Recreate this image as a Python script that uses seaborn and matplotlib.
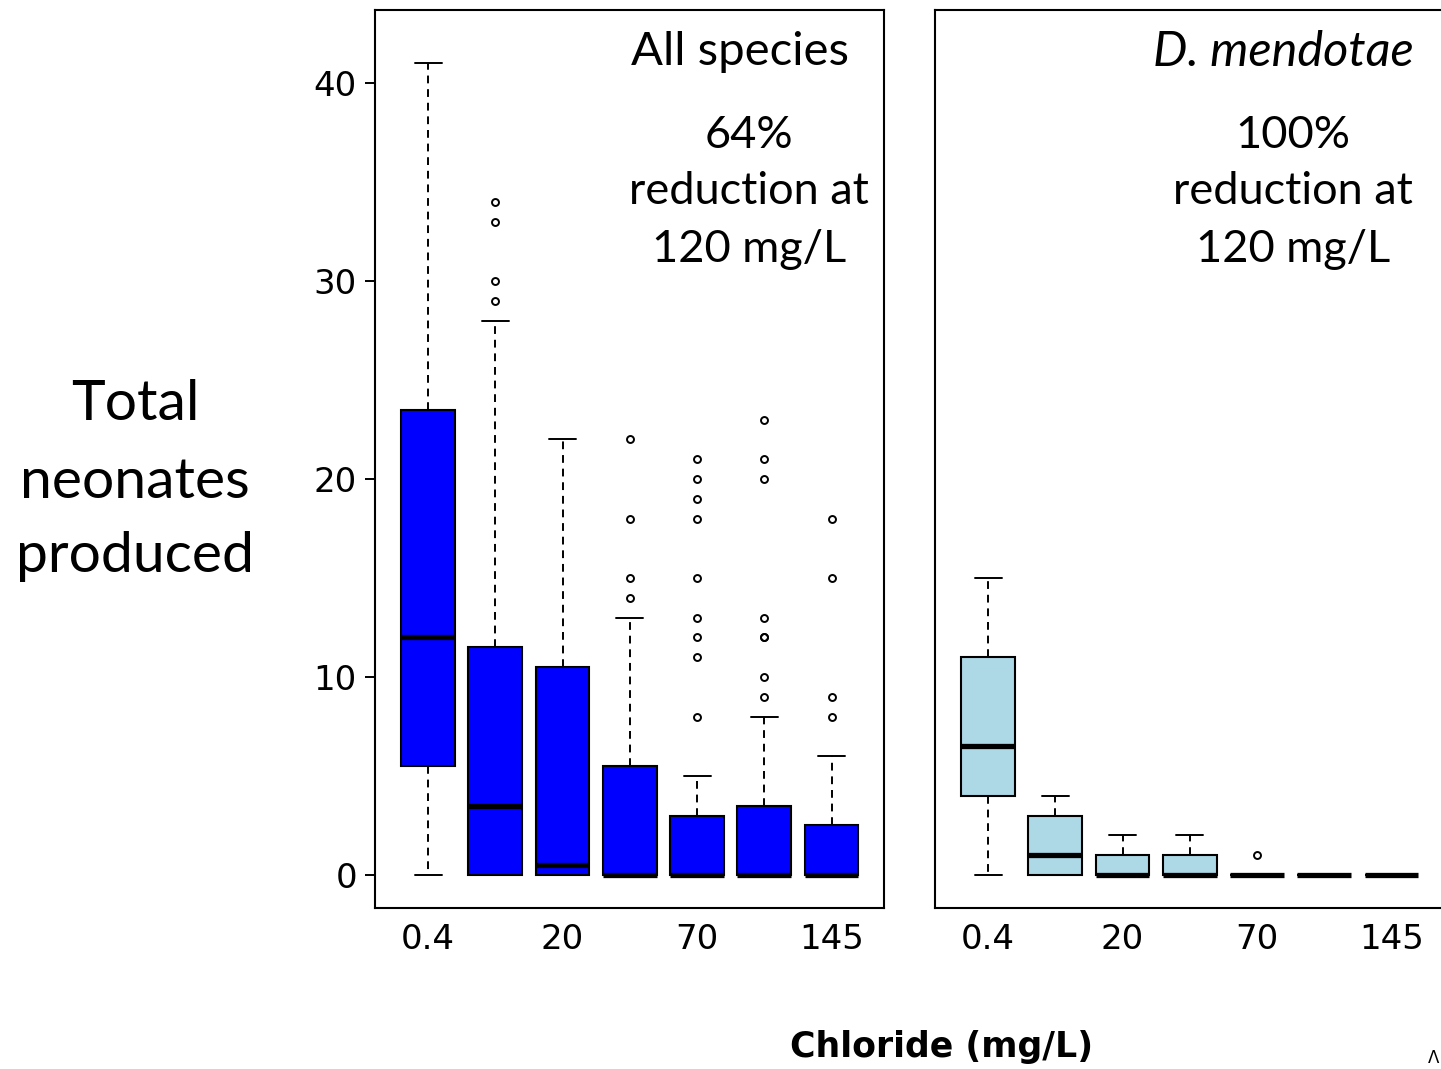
import numpy as np
import pandas as pd
import matplotlib
matplotlib.use("Agg")
import matplotlib.pyplot as plt
import seaborn as sns

# ---------------- data ----------------
levels = ["0.4", "10", "20", "40", "70", "120", "145"]
tick_labels = ["0.4", "", "20", "", "70", "", "145"]

# All species: neonates per chloride level
all_04 = [0, 3, 5.5, 9, 12, 18, 23.5, 30, 41]
all_10 = [0, 0, 0, 0, 0, 0, 1, 2, 3, 3, 3.5, 5, 6, 8, 10, 11.5, 28, 29, 30, 33, 34]
all_20 = [0, 0, 0, 0, 0.5, 5, 10.5, 15, 22]
all_40 = [0] * 13 + [1, 2, 3, 4, 5, 5.5, 8, 13, 14, 15, 18, 22]
all_70 = [0] * 21 + [1, 1, 1, 2, 2, 2, 2, 3, 3, 3, 5, 8, 11, 12, 13, 15, 18, 19, 20, 21]
all_120 = [0] * 21 + [1, 1, 1, 2, 2, 2, 3, 3, 3, 3.5, 6, 8, 9, 10, 12, 12, 13, 20, 21, 23]
all_145 = [0] * 17 + [1, 1, 1, 2, 2, 2, 2, 2.5, 3, 4, 5, 6, 8, 9, 15, 18]

# D. mendotae
dm_04 = [0, 2, 4, 5, 6.5, 8, 11, 13, 15]
dm_10 = [0, 0, 1, 3, 4]
dm_20 = [0, 0, 0, 1, 2]
dm_40 = [0, 0, 0, 1, 2]
dm_70 = [0, 0, 0, 0, 1]
dm_120 = [0, 0, 0, 0, 0]
dm_145 = [0, 0, 0, 0, 0]

all_groups = [all_04, all_10, all_20, all_40, all_70, all_120, all_145]
dm_groups = [dm_04, dm_10, dm_20, dm_40, dm_70, dm_120, dm_145]


def to_frame(groups):
    rows = []
    for lev, vals in zip(levels, groups):
        for v in vals:
            rows.append((lev, v))
    return pd.DataFrame(rows, columns=["chloride", "neonates"])


df_all = to_frame(all_groups)
df_dm = to_frame(dm_groups)

# ---------------- style ----------------
sns.set_theme(style="white")
plt.rcParams["font.family"] = ["DejaVu Sans"]
plt.rcParams["text.color"] = "black"
plt.rcParams["xtick.color"] = "black"
plt.rcParams["ytick.color"] = "black"
plt.rcParams["xtick.labelcolor"] = "black"
plt.rcParams["ytick.labelcolor"] = "black"

W, H = 1441, 1069
fig = plt.figure(figsize=(W / 100, H / 100), dpi=100)


def px_axes(x0, y0, x1, y1):
    return fig.add_axes([x0 / W, 1 - y1 / H, (x1 - x0) / W, (y1 - y0) / H])


ax1 = px_axes(375, 10, 884, 908)
ax2 = px_axes(935, 10, 1444, 908)

box_kws = dict(
    order=levels, saturation=1, width=0.8, linecolor="black", linewidth=1.5,
    whis=1.5, fliersize=5,
    flierprops=dict(marker="o", markerfacecolor="none", markeredgecolor="black",
                    markeredgewidth=1.4, markersize=5),
    medianprops=dict(linewidth=3.8, color="black", solid_capstyle="butt"),
    whiskerprops=dict(linestyle=(0, (4, 3)), linewidth=1.4, color="black"),
    capprops=dict(linewidth=1.4, color="black"),
)

sns.boxplot(data=df_all, x="chloride", y="neonates", color="#0000FF", ax=ax1, **box_kws)
sns.boxplot(data=df_dm, x="chloride", y="neonates", color="#ADD8E6", ax=ax2, **box_kws)

for ax in (ax1, ax2):
    ax.set_xlim(-0.79, 6.78)
    ax.set_ylim(-1.667, 43.69)
    ax.set_xlabel("")
    ax.set_ylabel("")
    ax.set_xticks(range(7))
    ax.set_xticklabels(tick_labels, fontsize=24.5, color="black")
    for s in ax.spines.values():
        s.set_visible(True)
        s.set_color("black")
        s.set_linewidth(1.5)
    ax.tick_params(axis="x", direction="out", length=7, width=1.4, color="black", pad=4)
    ax.set_facecolor("white")

ax1.set_yticks([0, 10, 20, 30, 40])
ax1.set_yticklabels(["0", "10", "20", "30", "40"], fontsize=24.5, color="black")
ax1.tick_params(axis="y", direction="out", length=7, width=1.4, color="black", pad=6, left=True)
ax2.set_yticks([])

# ---------------- texts ----------------
cal = ["Lato", "DejaVu Sans"]


def ftext(x, y, s, **kw):
    fig.text(x / W, 1 - y / H, s, color="black", **kw)


ftext(740, 52, "All species", ha="center", va="center", fontsize=34, family=cal)
ftext(749, 135, "64%", ha="center", va="center", fontsize=32.5, family=cal)
ftext(749, 192, "reduction at", ha="center", va="center", fontsize=32.5, family=cal)
ftext(749, 249, "120 mg/L", ha="center", va="center", fontsize=32.5, family=cal)

ftext(1283, 52, "D. mendotae", ha="center", va="center", fontsize=35, family=cal, style="italic")
ftext(1293, 135, "100%", ha="center", va="center", fontsize=32.5, family=cal)
ftext(1293, 192, "reduction at", ha="center", va="center", fontsize=32.5, family=cal)
ftext(1293, 249, "120 mg/L", ha="center", va="center", fontsize=32.5, family=cal)

ftext(135, 405, "Total", ha="center", va="center", fontsize=41, family=cal)
ftext(135, 482, "neonates", ha="center", va="center", fontsize=41, family=cal)
ftext(135, 557, "produced", ha="center", va="center", fontsize=41, family=cal)

ftext(942, 1047, "Chloride (mg/L)", ha="center", va="center", fontsize=25,
      fontweight="bold", family=["DejaVu Sans"])
ftext(1434, 1067, "\u039b", ha="center", va="bottom", fontsize=12, family=["DejaVu Sans"])

fig.savefig("out.png", dpi=100)
